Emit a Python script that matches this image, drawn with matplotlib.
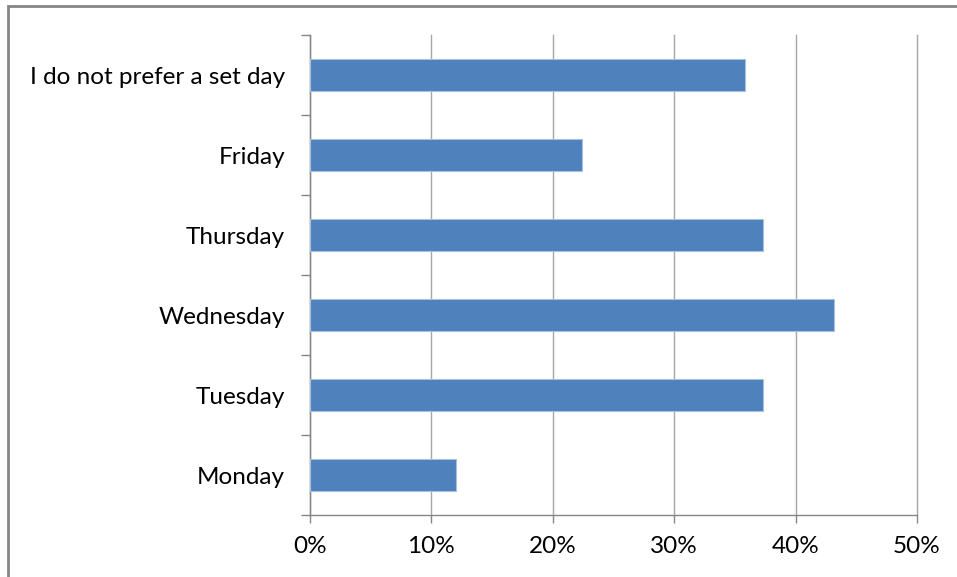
import matplotlib
matplotlib.use("Agg")
import matplotlib.pyplot as plt
from matplotlib.patches import Rectangle
from matplotlib.ticker import FixedLocator, PercentFormatter

categories = ["Monday", "Tuesday", "Wednesday", "Thursday", "Friday", "I do not prefer a set day"]
values = [12.0, 37.3, 43.2, 37.3, 22.4, 35.8]
xticks = [0, 10, 20, 30, 40, 50]

plt.rcParams['font.family'] = ['Lato', 'DejaVu Sans']

fig = plt.figure(figsize=(9.57, 5.77), dpi=100)
ax = fig.add_axes([310/957, 1-515/577, (917-310)/957, (515-35)/577])

ypos = list(range(len(categories)))
ax.barh(ypos, values, height=0.41, color="#4F81BD", edgecolor="#A7C0DE", linewidth=0.8, zorder=3)

ax.set_xlim(0, 50)
ax.set_ylim(-0.5, len(categories)-0.5)
ax.set_xticks(xticks)
ax.xaxis.set_major_formatter(PercentFormatter(decimals=0))
ax.set_yticks(ypos)
ax.set_yticklabels(categories)
ax.yaxis.set_minor_locator(FixedLocator([i-0.5 for i in range(len(categories)+1)]))

ax.grid(axis='x', color="#A6A6A6", linewidth=1.0, zorder=0)
for gl in ax.get_xgridlines():
    gl.set_clip_on(False)
ax.set_axisbelow(True)

for s in ['top', 'right']:
    ax.spines[s].set_visible(False)
for s in ['left', 'bottom']:
    ax.spines[s].set_color("#868686")
    ax.spines[s].set_linewidth(1.0)

fs = 17.5
ax.tick_params(axis='y', which='major', length=0, pad=18, labelsize=fs, labelcolor="#000000")
ax.tick_params(axis='y', which='minor', length=6.5, width=1.0, color="#868686", direction='out')
ax.tick_params(axis='x', which='major', length=6, width=1.0, color="#868686", direction='out', pad=9, labelsize=fs, labelcolor="#000000")

fig.patches.append(Rectangle((8/957, -0.1), 1.2, 1-6/577+0.1, transform=fig.transFigure,
                             fill=False, edgecolor="#868686", linewidth=2.0))

fig.savefig("out.png", dpi=100)
